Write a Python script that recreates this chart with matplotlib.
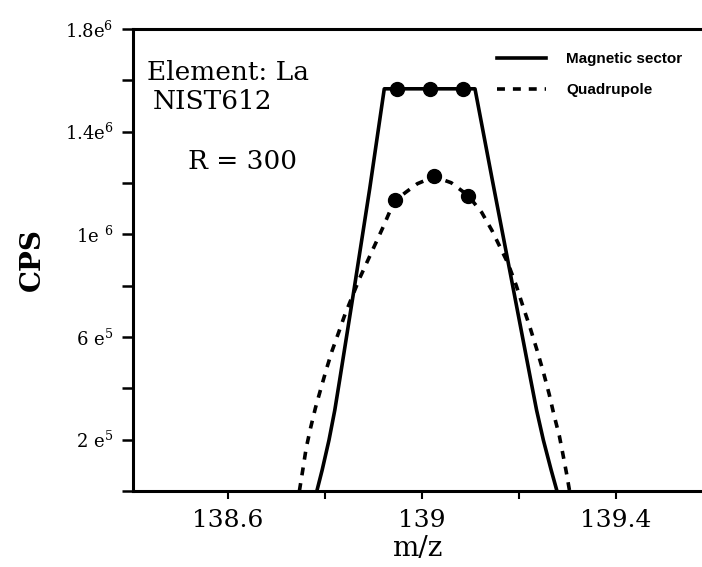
import matplotlib
matplotlib.use("Agg")
import matplotlib.pyplot as plt

# peak profiles (m/z, counts per second)
mag_x = [138.783, 138.794, 138.808, 138.820, 138.830, 138.860, 138.892, 138.922,
         138.949, 139.017, 139.085, 139.109, 139.145, 139.187, 139.224, 139.236,
         139.250, 139.266, 139.278]
mag_y = [0, 82e3, 198e3, 315e3, 432e3, 789e3, 1178e3, 1567e3,
         1567e3, 1567e3, 1567e3, 1567e3, 1209e3, 797e3, 432e3, 315e3,
         198e3, 82e3, 0]

quad_x = [138.747, 138.754, 138.761, 138.770, 138.780, 138.791, 138.802, 138.814,
          138.828, 138.841, 138.856, 138.871, 138.887, 138.903, 138.920, 138.942,
          138.965, 138.990, 139.025, 139.060, 139.095, 139.123, 139.144, 139.161,
          139.177, 139.194, 139.208, 139.223, 139.237, 139.250, 139.262, 139.272,
          139.283, 139.291, 139.298, 139.304]
quad_y = [0, 82e3, 167e3, 245e3, 323e3, 397e3, 470e3, 544e3,
          618e3, 688e3, 758e3, 828e3, 894e3, 960e3, 1030e3, 1127e3,
          1162e3, 1197e3, 1225e3, 1201e3, 1151e3, 1085e3, 1015e3, 949e3,
          887e3, 801e3, 719e3, 634e3, 548e3, 463e3, 377e3, 295e3,
          214e3, 136e3, 66e3, 0]

# measured points (dots)
mag_pts_x = [138.949, 139.017, 139.085]
mag_pts_y = [1567e3, 1567e3, 1567e3]
quad_pts_x = [138.944, 139.025, 139.095]
quad_pts_y = [1135e3, 1229e3, 1151e3]

xticks = [138.6, 139.0, 139.4]
xtick_labels = ["138.6", "139", "139.4"]
yticks = [0, 2e5, 4e5, 6e5, 8e5, 1e6, 1.2e6, 1.4e6, 1.6e6, 1.8e6]
ytick_labels = ["", r"2 e$^5$", "", r"6 e$^5$", "", r"1e $^6$", "", r"1.4e$^6$", "", r"1.8e$^6$"]

plt.rcParams["font.family"] = "DejaVu Serif"
plt.rcParams["mathtext.fontset"] = "dejavuserif"

fig = plt.figure(figsize=(7.02, 5.67), dpi=100)
ax = fig.add_axes([133 / 702, 1 - 491 / 567, 1 - 133 / 702, (491 - 29) / 567])

ax.plot(mag_x, mag_y, color="black", lw=2.6, label="Magnetic sector")
ax.plot(quad_x, quad_y, color="black", lw=2.6, linestyle=(0, (2.2, 2.2)), label="Quadrupole")
ax.plot(mag_pts_x, mag_pts_y, "o", color="black", ms=10)
ax.plot(quad_pts_x, quad_pts_y, "o", color="black", ms=10)

ax.set_xlim(138.404, 139.577)
ax.set_ylim(0, 1.8e6)

ax.set_xticks(xticks)
ax.set_xticklabels(xtick_labels, fontsize=18)
ax.set_xticks([138.8, 139.2], minor=True)
ax.set_yticks(yticks)
ax.set_yticklabels(ytick_labels, fontsize=13)
ax.tick_params(axis="y", direction="out", length=8, width=1.8, pad=6)
ax.tick_params(axis="x", which="both", direction="out", length=6, width=1.5, pad=7)

ax.spines["right"].set_visible(False)
for s in ["left", "top", "bottom"]:
    ax.spines[s].set_linewidth(2.2)

ax.set_ylabel("CPS", fontsize=20, fontweight="bold", labelpad=14)
ax.set_xlabel("m/z", fontsize=20, labelpad=2)

ax.text(0.025, 0.905, "Element: La", transform=ax.transAxes, fontsize=19, va="center")
ax.text(0.034, 0.843, "NIST612", transform=ax.transAxes, fontsize=19, va="center")
ax.text(0.097, 0.713, "R = 300", transform=ax.transAxes, fontsize=19, va="center")

ax.legend(loc="upper left", bbox_to_anchor=(0.64, 0.95), frameon=False,
          prop={"family": "Liberation Sans", "size": 11, "weight": "bold"},
          handlelength=3.2, handletextpad=1.3, labelspacing=1.1,
          borderpad=0, borderaxespad=0)

fig.savefig("out.png", dpi=100)
